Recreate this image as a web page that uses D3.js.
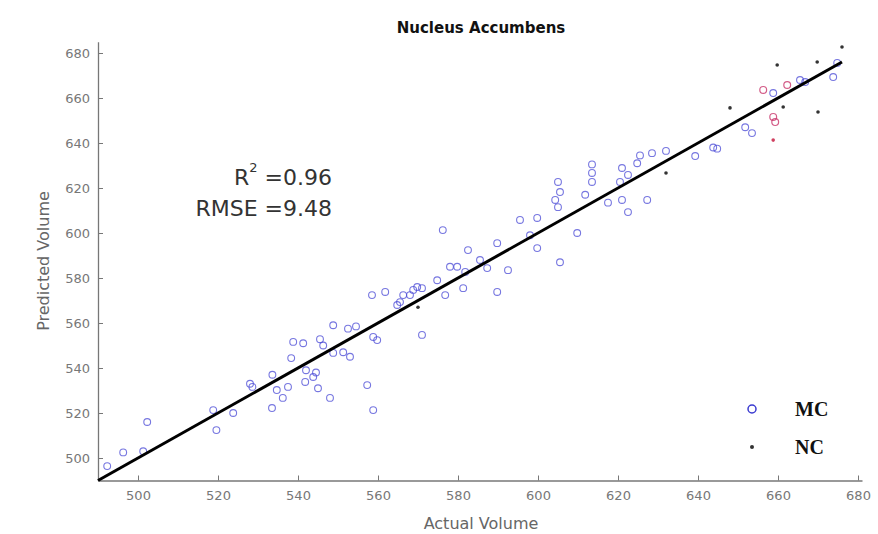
<!DOCTYPE html>
<html>
<head>
<meta charset="utf-8">
<script src="https://cdn.jsdelivr.net/npm/d3@7"></script>
<style>
  body { margin: 0; background: #fff; }
  text { font-family: "DejaVu Sans", sans-serif; }
</style>
</head>
<body>
<div id="chart"></div>
<script>
// values
const mcX = [492.3, 496.3, 501.3, 502.3, 518.8, 519.6, 523.8, 528.6, 528, 533.6, 533.5, 534.7, 536.2, 537.5,
  538.3, 538.8, 541.3, 541.8, 542, 543.8, 544.5, 545.5, 546.3, 545, 548, 548.8, 548.8, 551.3, 552.5, 553,
  554.5, 557.3, 558.8, 558.8, 559.8, 558.5, 561.8, 564.8, 565.5, 566.3, 568, 568.8, 569.8, 571, 571,
  574.8, 576.8, 578, 579.8, 576.2, 581.3, 581.8, 582.5, 585.5, 587.3, 589.8, 589.8, 592.5, 595.5, 598,
  599.8, 599.8, 605, 605.5, 604.3, 605, 605.5, 609.8, 611.8, 613.5, 613.5, 613.5, 617.5, 620.5, 621, 621,
  622.5, 622.5, 624.8, 625.5, 627.3, 628.5, 632, 639.3, 643.8, 644.8, 651.8, 653.5, 658.8, 665.5, 666.8,
  673.8, 674.8];
const mcY = [496.4, 502.5, 503, 516, 521.3, 512.4, 520, 531.6, 533, 537, 522.2, 530.2, 526.7, 531.6,
  544.4, 551.6, 551, 533.8, 539, 536, 538, 552.8, 550, 531, 526.7, 546.7, 559, 547, 557.5, 545,
  558.5, 532.4, 521.3, 553.8, 552.4, 572.4, 573.8, 568, 569.3, 572.4, 572.4, 574.7, 576, 575.5, 554.7,
  579, 572.4, 585, 585, 601.3, 575.5, 582.7, 592.4, 588, 584.4, 595.5, 573.8, 583.5, 605.8, 599,
  606.7, 593.3, 611.5, 587, 614.7, 622.7, 618.2, 600, 617, 622.7, 626.7, 630.5, 613.5, 622.7, 614.7, 628.9,
  625.8, 609.3, 631, 634.5, 614.7, 635.5, 636.5, 634.2, 638, 637.5, 647, 644.4, 662.2, 668, 667.1,
  669.3, 675.6];
// MC points drawn in red in the picture
const mcRedX = [656.3, 658.8, 659.3, 662.3];
const mcRedY = [663.6, 651.6, 649.3, 665.8];
const ncX = [570, 632, 648, 659.8, 661.3, 670, 669.8, 676, 658.8];
const ncY = [567, 626.7, 655.6, 674.7, 656, 653.8, 676, 682.7, 641.3];
const fitX = [490, 676];
const fitY = [490, 676];
const xTicks = [500, 520, 540, 560, 580, 600, 620, 640, 660, 680];
const yTicks = [500, 520, 540, 560, 580, 600, 620, 640, 660, 680];
const r2 = "0.96";
const rmse = "9.48";

const W = 878, H = 534;

const svg = d3.select("#chart")
    .append("svg")
    .attr("width", W)
    .attr("height", H);

const x = d3.scaleLinear().domain([490, 681]).range([98, 862]);
const y = d3.scaleLinear().domain([490, 685]).range([480.5, 41.75]);

// axes, ticks pointing inward like matlab
const xAxis = svg.append("g")
    .attr("transform", "translate(0," + y(490) + ")")
    .call(d3.axisBottom(x).tickValues(xTicks).tickSizeInner(-5).tickSizeOuter(0).tickPadding(10));
const yAxis = svg.append("g")
    .attr("transform", "translate(" + x(490) + ",0)")
    .call(d3.axisLeft(y).tickValues(yTicks).tickSizeInner(-5).tickSizeOuter(0).tickPadding(8));

[xAxis, yAxis].forEach(function (a) {
    a.select(".domain").attr("stroke", "#777").attr("stroke-width", 1.3);
    a.selectAll(".tick line").attr("stroke", "#777");
    a.selectAll(".tick text")
        .attr("fill", "#777")
        .style("font-size", "13px")
        .style("font-family", "DejaVu Sans");
});

// data points
const mc = mcX.map(function (d, i) { return {x: d, y: mcY[i]}; });
const mcRed = mcRedX.map(function (d, i) { return {x: d, y: mcRedY[i]}; });
const nc = ncX.map(function (d, i) { return {x: d, y: ncY[i]}; });

svg.append("g").selectAll("circle")
    .data(mc)
    .enter().append("circle")
    .attr("cx", function (d) { return x(d.x); })
    .attr("cy", function (d) { return y(d.y); })
    .attr("r", 3.4)
    .attr("fill", "none")
    .attr("stroke", "#4a4ad6")
    .attr("stroke-opacity", 0.75)
    .attr("stroke-width", 1.1);

svg.append("g").selectAll("circle")
    .data(mcRed)
    .enter().append("circle")
    .attr("cx", function (d) { return x(d.x); })
    .attr("cy", function (d) { return y(d.y); })
    .attr("r", 3.4)
    .attr("fill", "none")
    .attr("stroke", "#c8346a")
    .attr("stroke-opacity", 0.8)
    .attr("stroke-width", 1.2);

svg.append("g").selectAll("circle")
    .data(nc)
    .enter().append("circle")
    .attr("cx", function (d) { return x(d.x); })
    .attr("cy", function (d) { return y(d.y); })
    .attr("r", 1.8)
    .attr("fill", function (d, i) { return i == nc.length - 1 ? "#d04060" : "#333"; });

// fit line
svg.append("line")
    .attr("x1", x(fitX[0])).attr("y1", y(fitY[0]))
    .attr("x2", x(fitX[1])).attr("y2", y(fitY[1]))
    .attr("stroke", "#000")
    .attr("stroke-width", 3);

// title and labels
svg.append("text")
    .attr("x", 481).attr("y", 33)
    .attr("text-anchor", "middle")
    .style("font-size", "15px")
    .style("font-weight", "bold")
    .attr("fill", "#111")
    .text("Nucleus Accumbens");

svg.append("text")
    .attr("x", 481).attr("y", 529)
    .attr("text-anchor", "middle")
    .style("font-size", "16px")
    .attr("fill", "#666")
    .text("Actual Volume");

svg.append("text")
    .attr("transform", "translate(49,261) rotate(-90)")
    .attr("text-anchor", "middle")
    .style("font-size", "16px")
    .attr("fill", "#666")
    .text("Predicted Volume");

// stats
const r2Text = svg.append("text")
    .attr("x", 332).attr("y", 185)
    .attr("text-anchor", "end")
    .style("font-size", "22px")
    .attr("fill", "#333");
r2Text.append("tspan").text("R");
r2Text.append("tspan").attr("dy", -13).style("font-size", "13px").text("2");
r2Text.append("tspan").attr("dy", 13).text(" =" + r2);

svg.append("text")
    .attr("x", 332).attr("y", 216)
    .attr("text-anchor", "end")
    .style("font-size", "22px")
    .attr("fill", "#333")
    .text("RMSE =" + rmse);

// legend
const legend = svg.append("g");
legend.append("circle")
    .attr("cx", 752).attr("cy", 409).attr("r", 4)
    .attr("fill", "none").attr("stroke", "#3a3ad0").attr("stroke-width", 1.5);
legend.append("circle")
    .attr("cx", 752).attr("cy", 447).attr("r", 2)
    .attr("fill", "#333");
legend.append("text")
    .attr("x", 795).attr("y", 416)
    .style("font-family", "Liberation Serif")
    .style("font-weight", "bold")
    .style("font-size", "20px")
    .attr("fill", "#111")
    .text("MC");
legend.append("text")
    .attr("x", 795).attr("y", 454)
    .style("font-family", "Liberation Serif")
    .style("font-weight", "bold")
    .style("font-size", "20px")
    .attr("fill", "#111")
    .text("NC");
</script>
</body>
</html>
